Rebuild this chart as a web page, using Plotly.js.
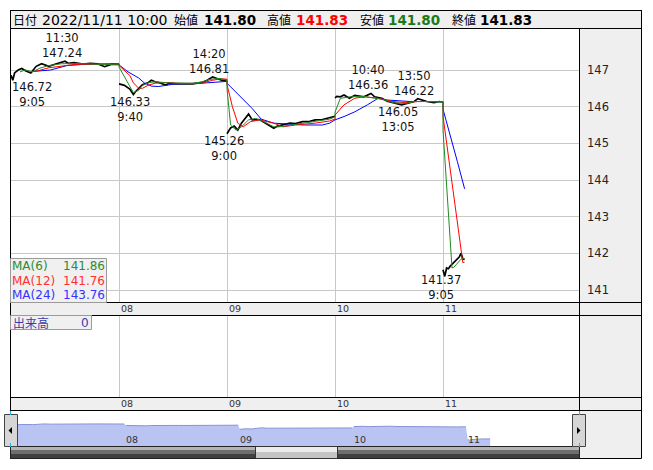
<!DOCTYPE html>
<html><head><meta charset="utf-8">
<script src="https://cdn.plot.ly/plotly-3.0.1.min.js"></script>
<style>html,body{margin:0;padding:0;background:#fff}#chart{width:653px;height:470px}</style>
</head><body><div id="chart"></div>
<script>
// ---------------- data ----------------
const headerDate = "2022/11/11 10:00";
const ohlcLabels = ["始値","高値","安値","終値"];
const ohlcValues = [141.80, 141.83, 141.80, 141.83];
const dayLabels = ["08","09","10","11"];
const yTickVals = [141,142,143,144,145,146,147];
const volumeLabel = "出来高";
const volumeLast = 0;

const priceTime = [
"07 09:00","07 09:05","07 09:10","07 09:20","07 09:30","07 09:40","07 09:55","07 10:10","07 10:25","07 10:45","07 11:00","07 11:15","07 11:30","07 12:40","07 12:55","07 13:20","07 13:40","07 14:00","07 14:20","07 14:40","07 15:00",
"08 09:00","08 09:15","08 09:30","08 09:40","08 09:45","08 09:55","08 10:05","08 10:20","08 10:30","08 10:40","08 10:50","08 11:10","08 11:20","08 12:35","08 12:55","08 13:25","08 13:50","08 14:05","08 14:20","08 14:45","08 15:00",
"09 09:00","09 09:10","09 09:20","09 09:30","09 09:40","09 09:50","09 10:00","09 10:10","09 10:30","09 10:45","09 11:10","09 11:20","09 12:35","09 12:55","09 13:10","09 13:30","09 13:50","09 14:05","09 14:25","09 14:45","09 15:00",
"10 09:00","10 09:05","10 09:15","10 09:25","10 09:40","10 09:55","10 10:20","10 10:30","10 10:40","10 10:50","10 11:10","10 11:25","10 12:45","10 13:05","10 13:20","10 13:40","10 13:50","10 14:15","10 14:35","10 14:50","10 15:00",
"11 09:00","11 09:05","11 09:10","11 09:15","11 09:20","11 09:25","11 09:30","11 09:35","11 09:40","11 09:45","11 09:50","11 09:55","11 10:00"];
const priceClose = [
146.86,146.72,146.92,147.00,147.04,146.98,146.92,147.10,147.17,147.10,147.15,147.19,147.24,147.18,147.20,147.16,147.18,147.17,147.09,147.16,147.15,
146.62,146.58,146.48,146.33,146.40,146.50,146.60,146.65,146.72,146.68,146.66,146.59,146.64,146.62,146.63,146.62,146.66,146.72,146.81,146.72,146.72,
145.26,145.42,145.47,145.36,145.55,145.68,145.80,145.64,145.65,145.56,145.41,145.47,145.50,145.55,145.54,145.59,145.60,145.64,145.65,145.69,145.74,
146.24,146.28,146.27,146.32,146.23,146.31,146.27,146.31,146.36,146.27,146.23,146.15,146.11,146.05,146.09,146.14,146.22,146.14,146.11,146.14,146.12,
141.55,141.37,141.60,141.58,141.65,141.70,141.74,141.80,141.84,141.90,142.00,141.85,141.83];

const ma6Time = [
"07 09:25","07 09:40","07 10:00","07 10:20","07 10:45","07 11:20","07 12:55","07 14:20","07 15:00",
"08 09:00","08 09:40","08 09:55","08 10:05","08 10:20","08 10:40","08 11:15","08 12:55","08 13:25","08 13:50","08 14:10","08 14:40","08 15:00",
"09 09:00","09 09:10","09 09:25","09 09:40","09 10:00","09 10:20","09 10:50","09 11:10","09 11:25","09 12:55","09 13:30","09 14:05","09 14:45","09 15:00",
"10 09:00","10 09:05","10 09:15","10 09:45","10 10:20","10 11:10","10 12:45","10 13:20","10 13:40","10 14:15","10 14:50","10 15:00",
"11 09:00","11 09:05","11 09:10","11 09:15","11 09:20","11 09:25","11 09:30","11 09:35","11 09:40","11 09:45","11 09:50","11 09:55","11 10:00"];
const ma6Value = [
146.95,147.00,146.95,147.05,147.12,147.17,147.18,147.15,147.16,
147.08,146.38,146.45,146.58,146.65,146.68,146.65,146.64,146.64,146.67,146.74,146.77,146.72,
146.48,145.50,145.36,145.45,145.64,145.68,145.55,145.45,145.45,145.50,145.55,145.60,145.66,145.72,
145.85,145.98,146.23,146.27,146.28,146.20,146.10,146.09,146.14,146.14,146.12,146.12,
145.36,144.57,143.80,143.05,142.30,141.60,141.62,141.68,141.74,141.78,141.84,141.86,141.86];

const ma12Time = [
"07 09:55","07 10:15","07 10:45","07 11:20","07 12:55","07 13:50","07 15:00",
"08 09:00","08 09:30","08 09:40","08 09:55","08 10:05","08 10:20","08 10:40","08 11:15","08 12:55","08 13:50","08 14:20","08 14:45","08 15:00",
"09 09:00","09 09:15","09 09:30","09 09:45","09 10:05","09 10:30","09 11:10","09 12:35","09 13:10","09 14:05","09 14:45","09 15:00",
"10 09:00","10 09:25","10 09:55","10 10:20","10 11:00","10 12:40","10 13:15","10 13:50","10 14:50","10 15:00",
"11 09:00","11 09:10","11 09:20","11 09:30","11 09:40","11 09:50","11 09:55","11 10:00"];
const ma12Value = [
146.95,146.98,147.06,147.10,147.15,147.16,147.16,
147.12,146.85,146.65,146.50,146.50,146.58,146.64,146.66,146.63,146.64,146.72,146.76,146.75,
146.60,146.00,145.55,145.45,145.59,145.64,145.55,145.45,145.50,145.55,145.61,145.66,
145.77,146.05,146.23,146.27,146.23,146.14,146.11,146.14,146.14,146.14,
145.74,145.00,144.25,143.50,142.75,142.10,141.75,141.76];

const ma24Time = [
"07 10:00","07 10:50","07 12:35","07 13:30","07 15:00",
"08 09:00","08 09:25","08 09:55","08 10:10","08 10:30","08 10:50","08 11:10","08 12:35","08 13:50","08 14:20","08 15:00",
"09 09:00","09 09:45","09 10:10","09 10:35","09 11:10","09 13:35","09 14:25","09 14:45","09 15:00",
"10 09:00","10 09:25","10 09:55","10 10:30","10 11:00","10 11:25","10 12:55","10 13:30","10 14:50","10 15:00",
"11 09:00","11 09:20","11 09:40","11 10:00"];
const ma24Value = [
146.96,147.00,147.12,147.16,147.17,
147.14,146.95,146.78,146.65,146.56,146.55,146.59,146.62,146.64,146.67,146.69,
146.64,146.18,145.95,145.66,145.55,145.50,145.50,145.55,145.62,
145.64,145.73,145.86,146.05,146.23,146.18,146.16,146.14,146.14,146.13,
145.93,145.25,144.50,143.76];

const maNames = ["MA(6)","MA(12)","MA(24)"];
const maLast = [141.86, 141.76, 143.76];

const extTime  = ["07 11:30","07 09:05","08 09:40","08 14:20","09 09:00","10 10:40","10 13:50","10 13:05","11 09:05"];
const extValue = [147.24,146.72,146.33,146.81,145.26,146.36,146.22,146.05,141.37];
const extKind  = ["high","low","low","high","low","high","high","low","low"];

// ---------------- helpers ----------------
const W = 653, H = 470;
const X = px => px / W;
const Y = py => 1 - py / H;
function sessionFrac(hm){
  const [h,m] = hm.split(':').map(Number);
  let mm = h*60 + m - 540;
  if (mm > 150) mm = Math.max(150, mm - 60);   // lunch break 11:30-12:30
  return mm / 300;
}
const dayOf = t => parseInt(t.slice(0,2),10) - 7;
const mainX = t => dayOf(t) + sessionFrac(t.slice(3));
const navX  = t => dayOf(t) + 0.985*sessionFrac(t.slice(3));
function withGaps(times, vals, fx){
  const xs=[], ys=[]; let prev=null;
  times.forEach((t,i)=>{ const d=dayOf(t); if(prev!==null && d!==prev){xs.push(null);ys.push(null);} xs.push(fx(t)); ys.push(vals[i]); prev=d; });
  return {xs, ys};
}
const FONT = 'DejaVu Sans, "Noto Sans CJK JP", sans-serif';
const JP = '"Noto Sans CJK JP", sans-serif';

// main mapping: px = 11 + 108*x ; nav mapping: px = 12.1 + 113.9*x
const mainRange = [0, (579-11)/108];
const navRange = [(11-12.1)/113.9, (579-12.1)/113.9];
const yRange = [140.673, 148.118];
const yPx = v => 302 - (v - yRange[0]) * (273 / (yRange[1] - yRange[0]));

// ---------------- traces ----------------
const pg = withGaps(priceTime, priceClose, mainX);
const ng = withGaps(priceTime, priceClose, navX);
const traces = [
  {type:'scatter', mode:'lines', x:pg.xs, y:pg.ys, line:{color:'#000', width:1.7}, connectgaps:false, xaxis:'x', yaxis:'y', hoverinfo:'skip'},
  {type:'scatter', mode:'lines', x:ma24Time.map(mainX), y:ma24Value, line:{color:'#0000ff', width:1}, xaxis:'x', yaxis:'y', hoverinfo:'skip'},
  {type:'scatter', mode:'lines', x:ma12Time.map(mainX), y:ma12Value, line:{color:'#ff0000', width:1}, xaxis:'x', yaxis:'y', hoverinfo:'skip'},
  {type:'scatter', mode:'lines', x:ma6Time.map(mainX), y:ma6Value, line:{color:'#1f8a1f', width:1}, xaxis:'x', yaxis:'y', hoverinfo:'skip'},
  {type:'scatter', mode:'lines', x:[], y:[], xaxis:'x2', yaxis:'y2', hoverinfo:'skip'},
  {type:'scatter', mode:'lines', x:ng.xs, y:ng.ys, fill:'tozeroy', fillcolor:'#bac4f3', line:{color:'#8893d6', width:1}, connectgaps:false, xaxis:'x3', yaxis:'y3', hoverinfo:'skip'}
];

// ---------------- annotations ----------------
const ann = [];
// header
const hdrFont = {family:FONT, size:14, color:'#000'};
ann.push({xref:'paper', yref:'paper', x:X(12), y:Y(19.5), xanchor:'left', yanchor:'middle', showarrow:false, text:'日付', font:{family:JP, size:12, color:'#000'}, borderpad:0});
ann.push({xref:'paper', yref:'paper', x:X(40.5), y:Y(19.5), xanchor:'left', yanchor:'middle', showarrow:false, text:headerDate, font:hdrFont, borderpad:0});
const lblX = [173, 266, 359, 451], valX = [202.5, 294.5, 386.5, 478.5];
const valColors = ['#000','#ff0000','#1a7a1a','#000'];
ohlcLabels.forEach((l,i)=>{
  ann.push({xref:'paper', yref:'paper', x:X(lblX[i]), y:Y(19.5), xanchor:'left', yanchor:'middle', showarrow:false, text:l, font:{family:JP, size:12, color:'#000'}, borderpad:0});
  ann.push({xref:'paper', yref:'paper', x:X(valX[i]), y:Y(19.5), xanchor:'left', yanchor:'middle', showarrow:false, text:'<b>'+ohlcValues[i].toFixed(2)+'</b>', font:{family:FONT, size:13.5, color:valColors[i]}, borderpad:0});
});
// date bands
dayLabels.forEach((d,i)=>{
  ann.push({xref:'x', yref:'paper', x:i+1, y:Y(308.5), xanchor:'left', yanchor:'middle', xshift:0.5, showarrow:false, text:d, font:{family:FONT, size:9.5, color:'#333'}, borderpad:0});
  ann.push({xref:'x2', yref:'paper', x:i+1, y:Y(403.5), xanchor:'left', yanchor:'middle', xshift:0.5, showarrow:false, text:d, font:{family:FONT, size:9.5, color:'#333'}, borderpad:0});
  ann.push({xref:'x3', yref:'paper', x:i+1, y:Y(439.5), xanchor:'left', yanchor:'middle', xshift:-1, showarrow:false, text:d, font:{family:FONT, size:9.5, color:'#333'}, borderpad:0});
});
// extremes (two-line labels: value nearest the mark, time beyond it)
const extSize = 11.5, blockH = 2 * 1.3 * extSize;
extTime.forEach((t,i)=>{
  const x = mainX(t), v = extValue[i];
  const xpx = 11 + 108*x;
  const center = Math.max(xpx - 3.5, 31.5);
  const xs = center - xpx;
  const hi = extKind[i] === 'high';
  const timeTxt = t.slice(3).replace(/^0/,'');
  const txt = hi ? (timeTxt + '<br>' + v.toFixed(2)) : (v.toFixed(2) + '<br>' + timeTxt);
  const ys = hi ? 0 : Math.max(1, yPx(v) + blockH - 301.5);
  ann.push({xref:'x', yref:'y', x, y:v, xanchor:'center', yanchor: hi ? 'bottom' : 'top', xshift:xs, yshift: ys, showarrow:false, text:txt, font:{family:FONT, size:extSize, color:'#111'}, borderpad:0});
});
// MA legend
const maTextColors = ['#2e8b2e','#ff3030','#3333ff'];
const maRowY = [265.5, 280.5, 295];
maNames.forEach((n,i)=>{
  ann.push({xref:'paper', yref:'paper', x:X(11), y:Y(maRowY[i]), xanchor:'left', yanchor:'middle', showarrow:false, text:n, font:{family:FONT, size:12, color:maTextColors[i]}, borderpad:0});
  ann.push({xref:'paper', yref:'paper', x:X(105.5), y:Y(maRowY[i]), xanchor:'right', yanchor:'middle', showarrow:false, text:maLast[i].toFixed(2), font:{family:FONT, size:12, color:maTextColors[i]}, borderpad:0});
});
// volume label
ann.push({xref:'paper', yref:'paper', x:X(11.5), y:Y(322.5), xanchor:'left', yanchor:'middle', showarrow:false, text:volumeLabel, font:{family:JP, size:12, color:'#3b3ba8'}, borderpad:0});
ann.push({xref:'paper', yref:'paper', x:X(90), y:Y(322.5), xanchor:'right', yanchor:'middle', showarrow:false, text:String(volumeLast), font:{family:FONT, size:12, color:'#3b3ba8'}, borderpad:0});

// ---------------- shapes ----------------
const shapes = [];
const rect = (x0,y0,x1,y1,fill,line,lw) => shapes.push({type:'rect', xref:'paper', yref:'paper', x0:X(x0), x1:X(x1), y0:Y(y1), y1:Y(y0), fillcolor:fill||'rgba(0,0,0,0)', line:{color:line||'rgba(0,0,0,0)', width: line? (lw||1) : 0}, layer:'above'});
const hline = (y,x0,x1,c) => shapes.push({type:'line', xref:'paper', yref:'paper', x0:X(x0), x1:X(x1), y0:Y(y), y1:Y(y), line:{color:c||'#000', width:1}, layer:'above'});
const vline = (x,y0,y1,c) => shapes.push({type:'line', xref:'paper', yref:'paper', x0:X(x), x1:X(x), y0:Y(y0), y1:Y(y1), line:{color:c||'#000', width:1}, layer:'above'});
const path = (pts,fill) => shapes.push({type:'path', xref:'paper', yref:'paper', path:'M'+pts.map(p=>X(p[0])+','+Y(p[1])).join('L')+'Z', fillcolor:fill, line:{width:0}, layer:'above'});

// white outer margins
rect(0,0,653,10,'#fff'); rect(0,458.5,653,470,'#fff'); rect(0,0,10,470,'#fff'); rect(641.5,0,653,470,'#fff');
// header + frame
rect(10.5,10.5,641.5,28.5,null,'#000');
hline(302.5,10,641.5); hline(315.5,10,641.5); hline(397.5,10,641.5); hline(410.5,10,641.5);
vline(579.5,28.5,410.5);
vline(10.5,10,458.5); vline(641.5,10,458.5); hline(458.5,10,641.5);
// MA legend box and volume label box
rect(10.5,258.5,106.5,302.5,'#f0f0f0','#9a9a9a');
rect(10.5,315.5,91.5,329.5,'#f0f0f0','#9a9a9a');
// navigator: scrollbar
rect(10.5,447,579.5,450,'#b4b4b4');
rect(10.5,450,579.5,454,'#6e6e6e');
rect(10.5,454,579.5,458,'#404040');
rect(10.5,446.5,579.5,458.5,null,'#222');
rect(255,447,337,452,'#ececec');
rect(255,452,337,458,'#c4c4c4');
rect(255.5,446.5,337.5,458.5,null,'#333');
// navigator buttons
rect(4.5,414.5,17.5,446.5,'#d6d6d6','#444');
rect(572.5,414.5,585.5,446.5,'#d6d6d6','#444');
path([[8.5,430.5],[12,427],[12,434]], '#000');
path([[577,427],[577,434],[580.5,430.5]], '#000');
// cyan edge marks
vline(10.5,411,415,'#19b6e6'); vline(10.5,443,447,'#19b6e6');
vline(579.5,411,415,'#19b6e6'); vline(579.5,443,447,'#19b6e6');

// ---------------- layout ----------------
const grid = '#c8c8c8';
const layout = {
  width:W, height:H, margin:{l:0,r:0,t:0,b:0,pad:0},
  paper_bgcolor:'#efefef', plot_bgcolor:'#ffffff', showlegend:false,
  font:{family:FONT, size:12, color:'#222'},
  xaxis:{domain:[X(11),X(579)], range:mainRange, anchor:'y', tickvals:[1,2,3,4], showticklabels:false, ticks:'', showgrid:true, gridcolor:grid, gridwidth:1, zeroline:false, showline:false, fixedrange:true},
  yaxis:{domain:[Y(302),Y(29)], range:yRange, anchor:'x', side:'right', tickvals:yTickVals, ticktext:yTickVals.map(String), ticks:'', showgrid:true, gridcolor:grid, gridwidth:1, zeroline:false, showline:false, tickfont:{family:FONT, size:11.5, color:'#222'}, ticklabelstandoff:7, fixedrange:true},
  xaxis2:{domain:[X(11),X(579)], range:mainRange, anchor:'y2', tickvals:[1,2,3,4], showticklabels:false, ticks:'', showgrid:true, gridcolor:grid, gridwidth:1, zeroline:false, showline:false, fixedrange:true},
  yaxis2:{domain:[Y(397),Y(316)], range:[0,1], anchor:'x2', showgrid:false, showticklabels:false, ticks:'', zeroline:false, showline:false, fixedrange:true},
  xaxis3:{domain:[X(11),X(579)], range:navRange, anchor:'y3', showgrid:false, showticklabels:false, ticks:'', zeroline:false, showline:false, fixedrange:true},
  yaxis3:{domain:[Y(447),Y(411)], range:[138.94,151.79], anchor:'x3', showgrid:false, showticklabels:false, ticks:'', zeroline:false, showline:false, fixedrange:true},
  annotations:ann, shapes:shapes
};
Plotly.newPlot('chart', traces, layout, {displayModeBar:false, staticPlot:true});
</script></body></html>
